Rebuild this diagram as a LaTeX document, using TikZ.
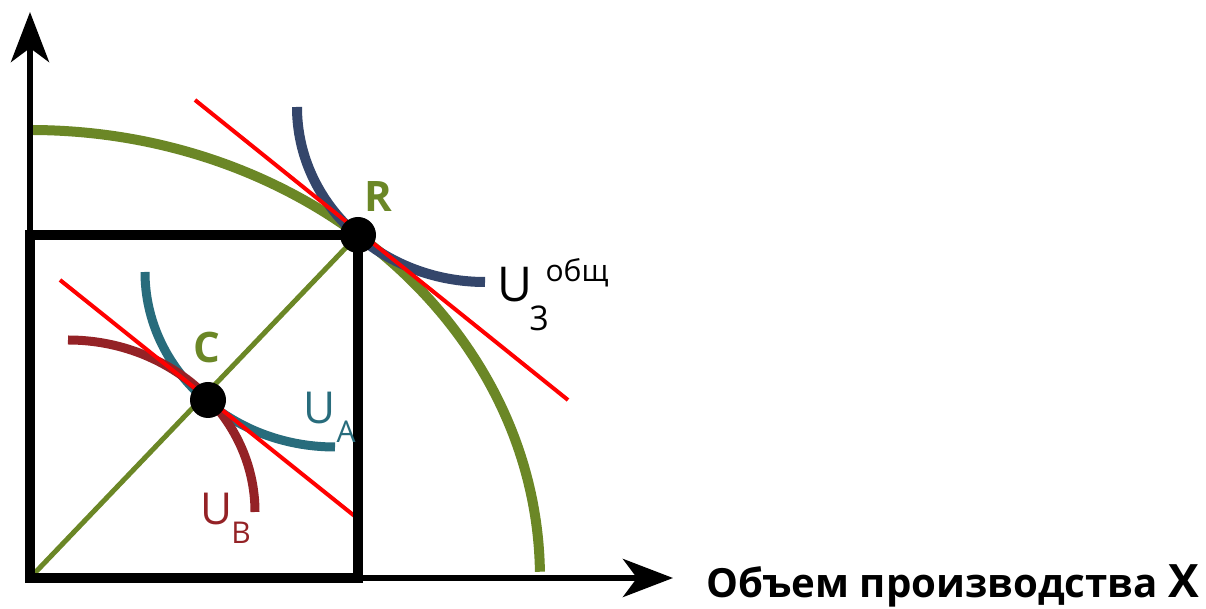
\documentclass[tikz,border=0pt]{standalone}
\usepackage{fontspec}
\setmainfont{Open Sans}
\usetikzlibrary{arrows.meta}
\definecolor{ppfgreen}{RGB}{107,135,38}
\definecolor{navyc}{RGB}{52,70,107}
\definecolor{tealc}{RGB}{40,108,124}
\definecolor{darkredc}{RGB}{148,34,38}
\tikzset{
  axisline/.style={line width=6pt, -{Stealth[length=50pt,width=38pt,inset=14pt]}},
  tangent/.style={red, line width=4pt},
  dot/.style={circle, fill=black, inner sep=0pt, minimum size=36pt},
  ptlabel/.style={font=\bfseries\fontsize{42}{42}\selectfont, text=ppfgreen, inner sep=0pt},
  ulab/.style={inner sep=0pt},
}
\begin{document}
\begin{tikzpicture}[x=1pt,y=1pt]
\useasboundingbox (0,0) rectangle (1206,609);
\coordinate (O) at (30,31);
\coordinate (R) at (358,374);
\coordinate (C) at (208,209);
\coordinate (ytip) at (30,597);
\coordinate (xtip) at (673,31);
% PPF
\draw[ppfgreen, line width=10pt] (30,479) arc[start angle=90, end angle=0.8, x radius=510, y radius=448];
% indifference curves
\draw[navyc, line width=10pt] (297,502) arc[start angle=180, end angle=270, x radius=188, y radius=175];
\draw[tealc, line width=9pt] (145,337) arc[start angle=180, end angle=270, x radius=190, y radius=175];
\draw[darkredc, line width=9pt] (68,269) arc[start angle=90, end angle=0, x radius=187, y radius=172];
% tangents
\coordinate (tr1) at (195,509);
\coordinate (tr2) at (568,209);
\coordinate (tc1) at (60,329);
\coordinate (tc2) at (357,91);
\draw[tangent] (tr1) -- (tr2);
\draw[tangent] (tc1) -- (tc2);
% diagonal
\draw[ppfgreen, line width=5pt] (O) -- (R);
% axes
\draw[axisline] (O) -- (ytip);
\draw[axisline] (O) -- (xtip);
% box
\draw[line width=10pt] (O) rectangle (R);
% dots
\node[dot] (Rd) at (R) {};
\node[dot] (Cd) at (C) {};
% labels
\node[ptlabel] (Rl) at (378,412) {R};
\node[ptlabel] (Cl) at (207,261) {C};
\node[ulab, font=\fontsize{48}{48}\selectfont] (U3) at (515,324) {U};
\node[ulab, font=\fontsize{34}{34}\selectfont] (U3s) at (539,291) {3};
\node[ulab, font=\fontsize{30}{30}\selectfont] (U3o) at (577,336) {общ};
\node[ulab, text=tealc, font=\fontsize{44}{44}\selectfont] (UA) at (320,201) {U};
\node[ulab, text=tealc, font=\fontsize{30}{30}\selectfont] (UAs) at (346,177) {A};
\node[ulab, text=darkredc, font=\fontsize{44}{44}\selectfont] (UB) at (217,100) {U};
\node[ulab, text=darkredc, font=\fontsize{30}{30}\selectfont] (UBs) at (241,76) {B};
\node[anchor=base west, inner sep=0pt, font=\bfseries\fontsize{40.2}{40}\selectfont] (xl) at (706,11) {Объем производства \fontsize{46}{46}\selectfont X};
\end{tikzpicture}
\end{document}
